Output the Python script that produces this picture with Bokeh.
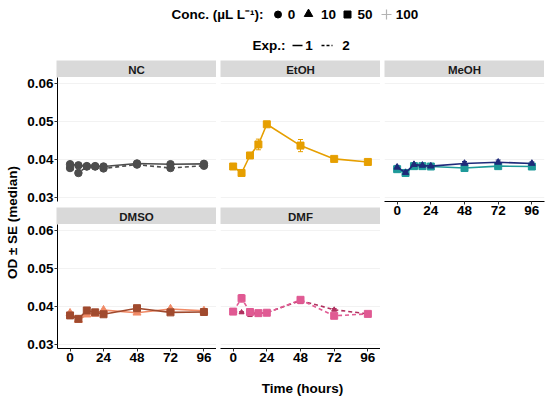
from math import pi
from bokeh.plotting import figure
from bokeh.models import (Range1d, LinearAxis, FixedTicker, Grid, ColumnDataSource,
                          Whisker, Spacer, NumeralTickFormatter, TeeHead)
from bokeh.layouts import row, column
from bokeh.core.properties import value
from bokeh.embed import file_html
from bokeh.resources import INLINE

# ---------------- data ----------------
times = [0, 6, 12, 18, 24, 48, 72, 96]
x_ticks = [0, 24, 48, 72, 96]
y_ticks = [0.03, 0.04, 0.05, 0.06]

nc_exp1 = [0.0388, 0.0385, 0.0383, 0.0383, 0.0382, 0.0390, 0.0388, 0.0389]
nc_exp2 = [0.0378, 0.0365, 0.0382, 0.0382, 0.0377, 0.0387, 0.0378, 0.0384]
nc_se = [0.0002, 0.0002, 0.0001, 0.0001, 0.0002, 0.0002, 0.0002, 0.0002]

etoh_50 = [0.0382, 0.0365, 0.0411, 0.0440, 0.0493, 0.0437, 0.0402, 0.0394]
etoh_se = [0.0002, 0.0001, 0.0002, 0.0014, 0.0002, 0.0016, 0.0002, 0.0001]

meoh_10 = [0.0380, 0.0366, 0.0387, 0.0385, 0.0383, 0.0390, 0.0393, 0.0390]
meoh_10_se = [0.0005, 0.0002, 0.0004, 0.0003, 0.0004, 0.0005, 0.0006, 0.0004]
meoh_50 = [0.0375, 0.0365, 0.0383, 0.0383, 0.0382, 0.0378, 0.0383, 0.0382]
meoh_50_se = [0.0003, 0.0002, 0.0002, 0.0002, 0.0003, 0.0002, 0.0002, 0.0002]

dmso_50 = [0.0377, 0.0368, 0.0390, 0.0385, 0.0380, 0.0396, 0.0385, 0.0386]
dmso_10 = [0.0383, 0.0365, 0.0379, 0.0381, 0.0391, 0.0384, 0.0394, 0.0389]
dmso_se = [0.0002, 0.0002, 0.0002, 0.0002, 0.0002, 0.0002, 0.0002, 0.0002]

dmf_50 = [0.0387, 0.0422, 0.0386, 0.0383, 0.0384, 0.0418, 0.0376, 0.0381]
dmf_50_se = [0.0002, 0.0010, 0.0002, 0.0001, 0.0001, 0.0002, 0.0002, 0.0002]
dmf_10 = [0.0386, 0.0385, 0.0379, 0.0383, 0.0384, 0.0416, 0.0392, 0.0381]
dmf_10_se = [0.0002, 0.0002, 0.0005, 0.0002, 0.0002, 0.0008, 0.0003, 0.0002]

FONT = "Liberation Sans"
X_RANGE = (-9, 105)
Y_RANGE = (0.0290, 0.0616)


def bare(**kw):
    f = figure(x_axis_location=None, y_axis_location=None, toolbar_location=None,
               output_backend="svg", outline_line_color=None, **kw)
    f.center = [r for r in f.center if not isinstance(r, Grid)]
    return f


def add_series(p, y, se, color, marker, dash, size=7):
    lo = [a - b for a, b in zip(y, se)]
    hi = [a + b for a, b in zip(y, se)]
    src = ColumnDataSource(dict(t=times, y=y, lo=lo, hi=hi))
    p.add_layout(Whisker(source=src, base="t", lower="lo", upper="hi",
                         line_color=color, line_width=1,
                         upper_head=TeeHead(size=5, line_color=color, line_width=1),
                         lower_head=TeeHead(size=5, line_color=color, line_width=1)))
    p.line(x="t", y="y", source=src, line_color=color, line_width=1.6, line_dash=dash)
    p.scatter(x="t", y="y", source=src, marker=marker, size=size,
              fill_color=color, line_color=color)


def style_axis(ax):
    ax.axis_line_color = "black"
    ax.axis_line_width = 1
    ax.major_tick_line_color = "#333333"
    ax.major_tick_out = 3
    ax.major_tick_in = 0
    ax.minor_tick_line_color = None
    ax.major_label_standoff = 1
    ax.major_label_text_font = FONT
    ax.major_label_text_font_style = "bold"
    ax.major_label_text_font_size = "13.5px"
    ax.major_label_text_color = "black"


def panel(w, h, mbl, mbr, mbb, yaxis, xaxis):
    p = bare(width=w, height=h, x_range=Range1d(*X_RANGE), y_range=Range1d(*Y_RANGE),
             min_border_left=mbl, min_border_right=mbr, min_border_top=0,
             min_border_bottom=mbb, background_fill_color="white",
             border_fill_color="white")
    p.add_layout(Grid(dimension=1, ticker=FixedTicker(ticks=y_ticks),
                      grid_line_color="#EFEFEF", grid_line_width=0.8))
    if yaxis:
        ax = LinearAxis(ticker=FixedTicker(ticks=y_ticks),
                        formatter=NumeralTickFormatter(format="0.00"))
        style_axis(ax)
        p.add_layout(ax, "left")
    if xaxis:
        ax = LinearAxis(ticker=FixedTicker(ticks=x_ticks))
        style_axis(ax)
        p.add_layout(ax, "below")
    return p


def strip(label, w):
    s = bare(width=w, height=17, x_range=Range1d(0, 1), y_range=Range1d(0, 1),
             min_border=0, background_fill_color="#D9D9D9")
    s.text(x=[0.5], y=[0.45], text=[label], text_align="center", text_baseline="middle",
           text_font=value(FONT), text_font_style="bold", text_font_size="11.5px",
           text_color="#1A1A1A")
    return s


FW = 160  # frame width
LB = 32   # left border of the first column (y axis)
GAP = 4

# top row
p_nc = panel(LB + FW, 130, LB, 0, 6, True, False)
add_series(p_nc, nc_exp2, nc_se, "#4D4D4D", "circle", "4 3", 7.5)
add_series(p_nc, nc_exp1, nc_se, "#4D4D4D", "circle", "solid", 7.5)

p_et = panel(GAP + FW, 130, GAP, 0, 6, False, False)
add_series(p_et, etoh_50, etoh_se, "#E69F00", "square", "solid")

p_me = panel(GAP + FW + 4, 145, GAP, 4, 21, False, True)
add_series(p_me, meoh_50, meoh_50_se, "#1E9A9A", "square", "solid")
add_series(p_me, meoh_10, meoh_10_se, "#1F2A7A", "triangle", "solid", 6.5)

# bottom row
p_ds = panel(LB + FW, 145, LB, 0, 21, True, True)
add_series(p_ds, dmso_10, dmso_se, "#F08A66", "triangle", "solid", 8)
add_series(p_ds, dmso_50, dmso_se, "#A04A2E", "square", "solid")

p_df = panel(GAP + FW, 145, GAP, 0, 21, False, True)
add_series(p_df, dmf_10, dmf_10_se, "#B0305F", "triangle", "4 3", 5)
add_series(p_df, dmf_50, dmf_50_se, "#E05A93", "square", "4 3")

TOTAL_W = 24 + LB + FW + GAP + FW + GAP + FW + 4

# ---------------- legend ----------------
leg = bare(width=TOTAL_W, height=60, x_range=Range1d(0, TOTAL_W), y_range=Range1d(60, 0),
           min_border=0)
tkw = dict(text_font=value(FONT), text_font_style="bold", text_font_size="13.5px",
           text_color="black", text_baseline="middle")
leg.text(x=[171], y=[14], text=["Conc. (µL L⁻¹):"], text_align="left", **tkw)
leg.scatter(x=[277.5], y=[14], marker="circle", size=7, color="black")
leg.scatter(x=[308], y=[13.5], marker="triangle", size=8.5, color="black")
leg.scatter(x=[347], y=[14], marker="square", size=7, color="black")
leg.scatter(x=[386], y=[14], marker="cross", size=10, line_color="#B3B3B3", line_width=1.2)
leg.text(x=[291, 328, 364.5, 406.5], y=[14] * 4, text=["0", "10", "50", "100"],
         text_align="center", **tkw)
leg.text(x=[252], y=[45], text=["Exp.:"], text_align="left", **tkw)
leg.segment(x0=[292], y0=[45], x1=[302], y1=[45], line_color="black", line_width=1.6)
leg.segment(x0=[321], y0=[45], x1=[332], y1=[45], line_color="black", line_width=1.6,
            line_dash="3 2")
leg.text(x=[308.5, 345.5], y=[45, 45], text=["1", "2"], text_align="center", **tkw)

# y label
YH = 17 + 130 + 17 + 145
ylab = bare(width=24, height=YH, x_range=Range1d(0, 24), y_range=Range1d(YH, 0),
            min_border=0)
ylab.text(x=[12], y=[222 - 60], text=["OD ± SE (median)"], angle=pi / 2,
          text_align="center", **tkw)

# x label
xlab = bare(width=TOTAL_W, height=27, x_range=Range1d(0, TOTAL_W), y_range=Range1d(27, 0),
            min_border=0)
xlab.text(x=[302], y=[19], text=["Time (hours)"], text_align="center", **tkw)

colAB = column(
    row(Spacer(width=LB, height=17), strip("NC", FW), Spacer(width=GAP, height=17),
        strip("EtOH", FW)),
    row(p_nc, p_et),
    row(Spacer(width=LB, height=17), strip("DMSO", FW), Spacer(width=GAP, height=17),
        strip("DMF", FW)),
    row(p_ds, p_df),
)
colC = column(
    row(Spacer(width=GAP, height=17), strip("MeOH", FW), Spacer(width=4, height=17)),
    p_me,
)
layout = column(leg, row(ylab, colAB, colC), xlab)

open("out.html", "w").write(file_html(layout, INLINE))
